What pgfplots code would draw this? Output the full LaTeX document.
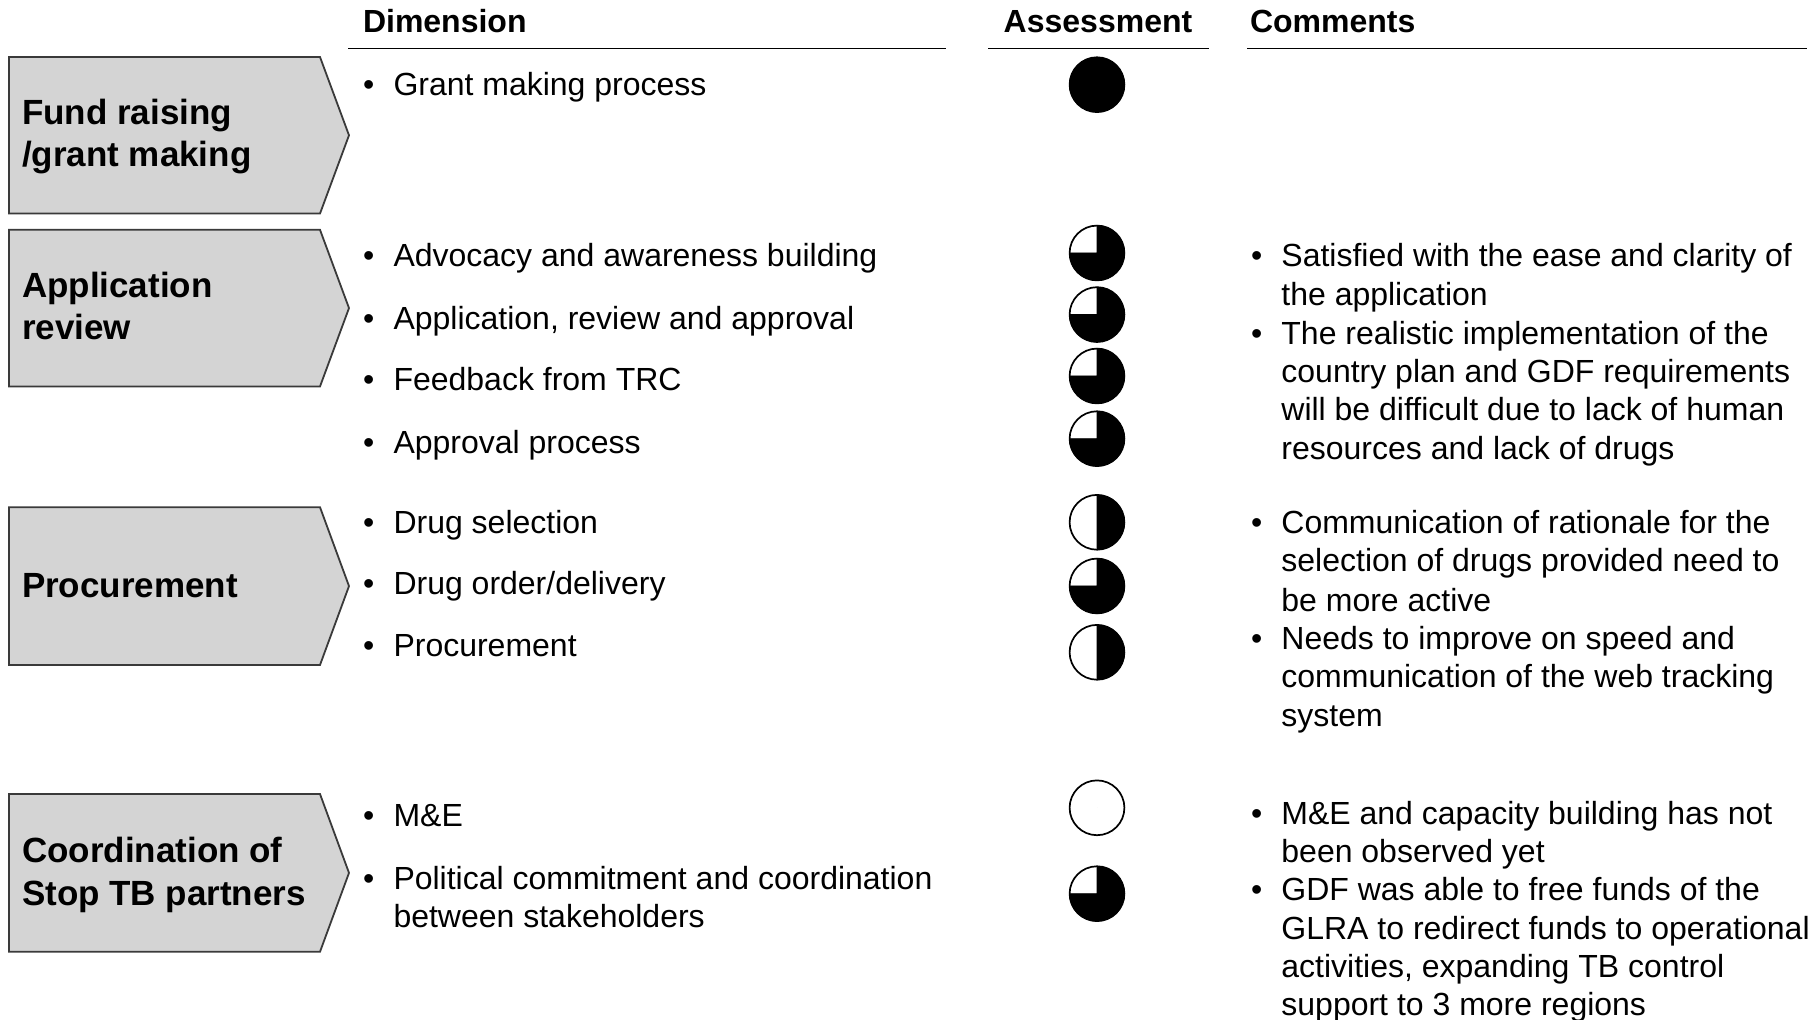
\documentclass[border=0pt]{standalone}
\usepackage{fontspec}
\setmainfont{Liberation Sans}
\usepackage{pgfplots}
\usepackage{pgfplotstable}
\pgfplotsset{compat=1.18}
\definecolor{boxfill}{HTML}{D4D4D4}
\definecolor{boxedge}{HTML}{3A3A3A}
\newcommand\bodyfont{\fontsize{16}{19}\selectfont}
\newcommand\labfont{\fontsize{17.5}{21}\selectfont\bfseries}
\newcommand\hdfont{\fontsize{16}{19}\selectfont\bfseries}
\tikzset{
  tb/.style={inner sep=0pt, outer sep=0pt, anchor=base west, font=\bodyfont},
  tl/.style={inner sep=0pt, outer sep=0pt, anchor=base west, font=\labfont},
  th/.style={inner sep=0pt, outer sep=0pt, anchor=base west, font=\hdfont},
}

% Harvey ball values (0 = empty, 1 = full)
\pgfplotstableread{
x y v
1097 84.7 1
1097 253.0 0.75
1097 314.6 0.75
1097 376.0 0.75
1097 438.7 0.75
1097 522.3 0.5
1097 586.0 0.75
1097 652.3 0.5
1097 807.8 0
1097 893.7 0.75
}\balls

\begin{document}
\begin{tikzpicture}
\begin{axis}[
  scale only axis, width=910pt, height=510pt,
  xmin=0, xmax=1820, ymin=0, ymax=1020, y dir=reverse,
  axis lines=none, clip=false,
]
% chevron boxes
\addplot[fill=boxfill, draw=boxedge, line width=0.9pt] coordinates {(9,57) (320,57) (349,135.3) (320,213.6) (9,213.6)} -- cycle;
\addplot[fill=boxfill, draw=boxedge, line width=0.9pt] coordinates {(9,229.8) (320,229.8) (349,308.1) (320,386.5) (9,386.5)} -- cycle;
\addplot[fill=boxfill, draw=boxedge, line width=0.9pt] coordinates {(9,507.2) (320,507.2) (349,586.1) (320,665) (9,665)} -- cycle;
\addplot[fill=boxfill, draw=boxedge, line width=0.9pt] coordinates {(9,794) (320,794) (349,872.9) (320,951.8) (9,951.8)} -- cycle;

% header rules
\addplot[black, line width=0.75pt] coordinates {(348,48.7) (946,48.7)};
\addplot[black, line width=0.75pt] coordinates {(988,48.7) (1209,48.7)};
\addplot[black, line width=0.75pt] coordinates {(1247,48.7) (1807,48.7)};

% harvey balls
\addplot[scatter, only marks, mark=*, mark size=0pt,
  scatter/use mapped color={draw=none, fill=none},
  point meta=explicit, point meta min=0, point meta max=1,
  scatter/@pre marker code/.code={%
    \pgfmathsetmacro\harvey{\pgfplotspointmetatransformed*0.36}%
    \begin{scope}
    \fill[white] (0,0) circle[radius=13.7pt];
    \ifdim\harvey pt>359pt
      \fill[black] (0,0) circle[radius=13.7pt];
    \else\ifdim\harvey pt>1pt
      \fill[black] (0,0) -- (90:13.7pt) arc[start angle=90, delta angle=-\harvey, radius=13.7pt] -- cycle;
    \fi\fi
    \draw[black, line width=0.85pt] (0,0) circle[radius=13.7pt];
  },
  scatter/@post marker code/.code={\end{scope}},
] table[x=x, y=y, meta=v] {\balls};

% headers
\node[th] at (axis cs:363,33) {Dimension};
\node[th, anchor=base] at (axis cs:1098,33) {Assessment};
\node[th] at (axis cs:1250,33) {Comments};

% box labels
\node[tl] at (axis cs:22,125) {Fund raising};
\node[tl] at (axis cs:22,167) {/grant making};
\node[tl] at (axis cs:22,298) {Application};
\node[tl] at (axis cs:22,340) {review};
\node[tl] at (axis cs:22,597.5) {Procurement};
\node[tl] at (axis cs:22,862) {Coordination of};
\node[tl] at (axis cs:22,905) {Stop TB partners};

% dimension bullets
\pgfplotsinvokeforeach{96,267,329.5,391,453.5,534,595,657,826,889}{
  \node[tb] at (axis cs:363,#1) {•};
}
\node[tb] at (axis cs:393.5,96) {Grant making process};
\node[tb] at (axis cs:393.5,267) {Advocacy and awareness building};
\node[tb] at (axis cs:393.5,329.5) {Application, review and approval};
\node[tb] at (axis cs:393.5,391) {Feedback from TRC};
\node[tb] at (axis cs:393.5,453.5) {Approval process};
\node[tb] at (axis cs:393.5,534) {Drug selection};
\node[tb] at (axis cs:393.5,595) {Drug order/delivery};
\node[tb] at (axis cs:393.5,657) {Procurement};
\node[tb] at (axis cs:393.5,826) {M\&E};
\node[tb] at (axis cs:393.5,889) {Political commitment and coordination};
\node[tb] at (axis cs:393.5,927) {between stakeholders};

% comments bullets
\pgfplotsinvokeforeach{267,344.5,534,650,824,900.5}{
  \node[tb] at (axis cs:1251,#1) {•};
}
\node[tb] at (axis cs:1281.4,267) {Satisfied with the ease and clarity of};
\node[tb] at (axis cs:1281.4,306) {the application};
\node[tb] at (axis cs:1281.4,344.5) {The realistic implementation of the};
\node[tb] at (axis cs:1281.4,383) {country plan and GDF requirements};
\node[tb] at (axis cs:1281.4,421) {will be difficult due to lack of human};
\node[tb] at (axis cs:1281.4,459.5) {resources and lack of drugs};

\node[tb] at (axis cs:1281.4,534) {Communication of rationale for the};
\node[tb] at (axis cs:1281.4,572) {selection of drugs provided need to};
\node[tb] at (axis cs:1281.4,611.5) {be more active};
\node[tb] at (axis cs:1281.4,650) {Needs to improve on speed and};
\node[tb] at (axis cs:1281.4,688) {communication of the web tracking};
\node[tb] at (axis cs:1281.4,726.5) {system};

\node[tb] at (axis cs:1281.4,824) {M\&E and capacity building has not};
\node[tb] at (axis cs:1281.4,862) {been observed yet};
\node[tb] at (axis cs:1281.4,900.5) {GDF was able to free funds of the};
\node[tb] at (axis cs:1281.4,939) {GLRA to redirect funds to operational};
\node[tb] at (axis cs:1281.4,977) {activities, expanding TB control};
\node[tb] at (axis cs:1281.4,1015.5) {support to 3 more regions};
\end{axis}
\pgfresetboundingbox
\path[use as bounding box] (current axis.south west) rectangle (current axis.north east);
\end{tikzpicture}
\end{document}
